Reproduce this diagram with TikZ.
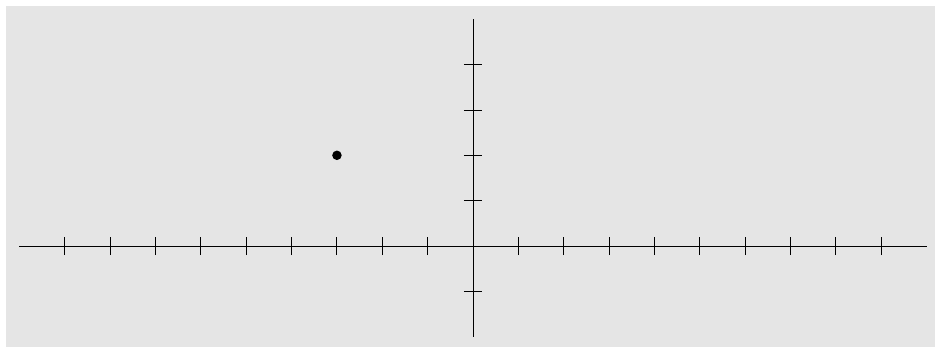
\documentclass[tikz,border=0pt]{standalone}
\begin{document}
\begin{tikzpicture}[x=45.35pt,y=45.35pt,
  axisline/.style={line width=0.9pt,black},
  tickline/.style={line width=0.9pt,black},
  ptdot/.style={circle,fill=black,inner sep=0pt,minimum size=9.5pt}]
\useasboundingbox (-473pt,-103pt) rectangle (464pt,246pt);
\fill[black!10] (-467pt,-101pt) rectangle (462pt,240pt);
\coordinate (xl) at (-10,0);
\coordinate (xr) at (10,0);
\coordinate (yb) at (0,-2);
\coordinate (yt) at (0,5);
\draw[axisline] (xl) -- (xr);
\draw[axisline] (yb) -- (yt);
\foreach \i in {-9,...,9} {
  \draw[tickline] (\i,-0.2) -- (\i,0.2);
}
\foreach \j in {-1,...,4} {
  \draw[tickline] (-0.2,\j) -- (0.2,\j);
}
\node[ptdot] (p) at (-3,2) {};
\end{tikzpicture}
\end{document}
